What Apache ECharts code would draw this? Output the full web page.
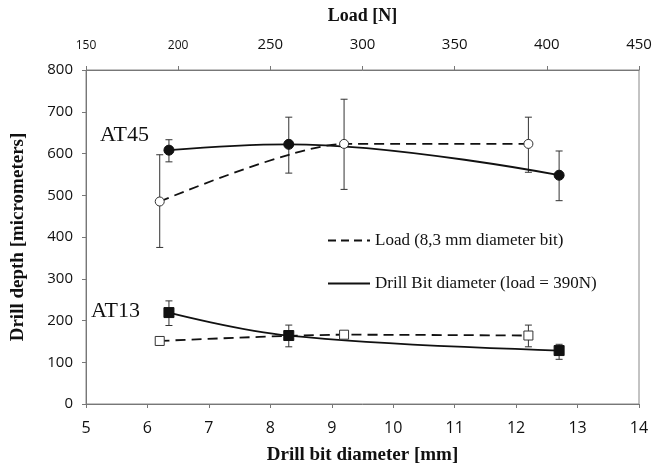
<!DOCTYPE html>
<html>
<head>
<meta charset="utf-8">
<script src="https://cdn.jsdelivr.net/npm/echarts@6/dist/echarts.min.js"></script>
<style>
  html, body { margin: 0; padding: 0; background: #fff; }
  #chart { width: 657px; height: 472px; }
</style>
</head>
<body>
<div id="chart"></div>
<script>
// drill bit diameter (bottom axis) and load (top axis)
const diameter = [6.35, 8.3, 12.7]
const load = [190, 290, 390]

// AT45
const at45Diameter = [608, 622, 548]
const at45DiameterLow = [580, 553, 487]
const at45DiameterHigh = [633, 687, 606]
const at45Load = [485, 623, 623]
const at45LoadLow = [375, 514, 555]
const at45LoadHigh = [597, 730, 687]

// AT13
const at13Diameter = [219, 164, 128]
const at13DiameterLow = [188, 137, 107]
const at13DiameterHigh = [247, 189, 143]
const at13Load = [151, 166, 164]
const at13LoadLow = [147, 162, 137]
const at13LoadHigh = [155, 170, 189]

const yTicks = [0, 100, 200, 300, 400, 500, 600, 700, 800]
const legendNames = ['Load (8,3 mm diameter bit)', 'Drill Bit diameter (load = 390N)']

const serif = '"Liberation Serif", "DejaVu Serif", serif'
const sans = '"Open Sans", "DejaVu Sans", sans-serif'
const ink = '#111'

const pairs = (xs, ys) => xs.map((x, i) => [x, ys[i]])
const errPairs = (xs, lo, hi) => xs.map((x, i) => [x, lo[i], hi[i]])

// error bar: vertical line with small caps
const errorBar = (params, api) => {
  const lo = api.coord([api.value(0), api.value(1)])
  const hi = api.coord([api.value(0), api.value(2)])
  const w = 3.5
  const style = { stroke: '#333', lineWidth: 1 }
  return {
    type: 'group',
    children: [
      { type: 'line', shape: { x1: lo[0], y1: lo[1], x2: hi[0], y2: hi[1] }, style },
      { type: 'line', shape: { x1: lo[0] - w, y1: lo[1], x2: lo[0] + w, y2: lo[1] }, style },
      { type: 'line', shape: { x1: hi[0] - w, y1: hi[1], x2: hi[0] + w, y2: hi[1] }, style }
    ]
  }
}

const chart = echarts.init(document.getElementById('chart'))

const solidLine = { color: ink, width: 1.8, type: 'solid' }
const dashLine = { color: ink, width: 1.8, type: [10, 6] }

const option = {
  animation: false,
  backgroundColor: '#fff',
  grid: {
    left: 86, right: 18, top: 70, bottom: 68,
    outerBoundsMode: 'none',
    show: true, borderColor: '#888', borderWidth: 1
  },
  legend: {
    data: legendNames,
    orient: 'vertical',
    left: 322,
    top: 227,
    itemWidth: 42,
    itemHeight: 20,
    itemGap: 26,
    itemStyle: { opacity: 0 },
    textStyle: { fontFamily: serif, fontSize: 17, color: ink }
  },
  xAxis: [
    {
      type: 'value',
      min: 5,
      max: 14,
      interval: 1,
      position: 'bottom',
      name: 'Drill bit diameter [mm]',
      nameLocation: 'middle',
      nameGap: 42,
      nameTextStyle: { fontFamily: serif, fontSize: 19, fontWeight: 'bold', color: ink },
      axisLine: { lineStyle: { color: '#777' } },
      axisTick: { length: 4, lineStyle: { color: '#777' } },
      axisLabel: { fontFamily: sans, fontSize: 16, color: ink, margin: 16 },
      splitLine: { show: false }
    },
    {
      type: 'value',
      min: 150,
      max: 450,
      interval: 50,
      position: 'top',
      name: 'Load [N]',
      nameLocation: 'middle',
      nameGap: 45,
      nameTextStyle: { fontFamily: serif, fontSize: 18, fontWeight: 'bold', color: ink },
      axisLine: { lineStyle: { color: '#777' } },
      axisTick: { length: 4, lineStyle: { color: '#777' } },
      axisLabel: {
        margin: 18,
        formatter: v => (v <= 200 ? '{s|' + v + '}' : '{b|' + v + '}'),
        rich: {
          s: { fontFamily: sans, fontSize: 12, color: ink },
          b: { fontFamily: sans, fontSize: 15, color: ink }
        }
      },
      splitLine: { show: false }
    }
  ],
  yAxis: {
    type: 'value',
    min: yTicks[0],
    max: yTicks[yTicks.length - 1],
    interval: 100,
    name: 'Drill depth [micrometers]',
    nameLocation: 'middle',
    nameGap: 58,
    nameTextStyle: { fontFamily: serif, fontSize: 19, fontWeight: 'bold', color: ink },
    axisLine: { show: true, lineStyle: { color: '#777' } },
    axisTick: { show: true, length: 4, lineStyle: { color: '#777' } },
    axisLabel: { fontFamily: sans, fontSize: 15, color: ink, margin: 13 },
    splitLine: { show: false }
  },
  graphic: [
    { type: 'text', left: 100, top: 124, style: { text: 'AT45', fontFamily: serif, fontSize: 22, fill: ink } },
    { type: 'text', left: 91, top: 300, style: { text: 'AT13', fontFamily: serif, fontSize: 22, fill: ink } }
  ],
  series: [
    // error bars
    { type: 'custom', xAxisIndex: 0, renderItem: errorBar, data: errPairs(diameter, at45DiameterLow, at45DiameterHigh), z: 1, silent: true },
    { type: 'custom', xAxisIndex: 1, renderItem: errorBar, data: errPairs(load, at45LoadLow, at45LoadHigh), z: 1, silent: true },
    { type: 'custom', xAxisIndex: 0, renderItem: errorBar, data: errPairs(diameter, at13DiameterLow, at13DiameterHigh), z: 1, silent: true },
    { type: 'custom', xAxisIndex: 1, renderItem: errorBar, data: errPairs(load, at13LoadLow, at13LoadHigh), z: 1, silent: true },
    // AT45
    {
      name: 'AT45 diameter', type: 'line', xAxisIndex: 0, smooth: 0.4, z: 3,
      symbol: 'circle', symbolSize: 10,
      itemStyle: { color: ink, borderColor: ink },
      lineStyle: solidLine,
      data: pairs(diameter, at45Diameter)
    },
    {
      name: 'AT45 load', type: 'line', xAxisIndex: 1, smooth: 0.25, z: 3,
      symbol: 'circle', symbolSize: 9,
      itemStyle: { color: '#fff', borderColor: '#333', borderWidth: 1 },
      lineStyle: dashLine,
      data: pairs(load, at45Load)
    },
    // AT13
    {
      name: 'AT13 diameter', type: 'line', xAxisIndex: 0, smooth: 0.4, z: 3,
      symbol: 'rect', symbolSize: 10,
      itemStyle: { color: ink, borderColor: ink },
      lineStyle: solidLine,
      data: pairs(diameter, at13Diameter)
    },
    {
      name: 'AT13 load', type: 'line', xAxisIndex: 1, smooth: 0.25, z: 3,
      symbol: 'rect', symbolSize: 9,
      itemStyle: { color: '#fff', borderColor: '#333', borderWidth: 1 },
      lineStyle: dashLine,
      data: pairs(load, at13Load)
    },
    // legend entries only
    { name: legendNames[0], type: 'line', symbol: 'none', lineStyle: { color: ink, width: 3, type: [8, 5] }, itemStyle: { color: ink }, data: [] },
    { name: legendNames[1], type: 'line', symbol: 'none', lineStyle: { color: ink, width: 3 }, itemStyle: { color: ink }, data: [] }
  ]
}

chart.setOption(option)
</script>
</body>
</html>
